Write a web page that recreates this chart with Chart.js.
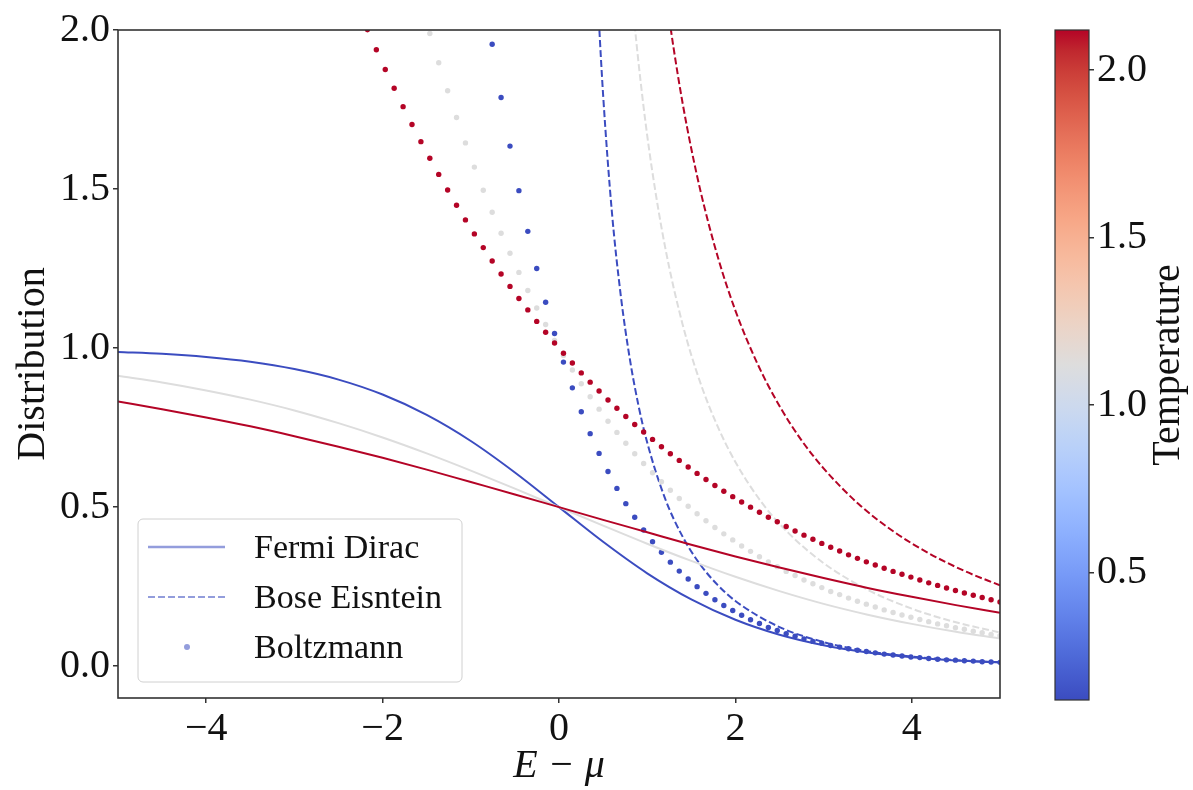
<!DOCTYPE html>
<html>
<head>
<meta charset="utf-8">
<script src="https://cdn.jsdelivr.net/npm/chart.js@4.4.1/dist/chart.umd.min.js"></script>
<style>
html,body{margin:0;padding:0;background:#fff;overflow:hidden;}
#wrap{position:relative;width:1193px;height:790px;}
#wrap canvas{position:absolute;left:0;top:0;}
</style>
</head>
<body>
<div id="wrap">
<canvas id="main" width="1193" height="790"></canvas>
<canvas id="cbar" width="1193" height="790"></canvas>
</div>
<script>
// ---------------- DATA ----------------
// Energy grid (E - mu) used by the Boltzmann markers
const energy = [
 -5.0000,-4.8990,-4.7980,-4.6970,-4.5960,-4.4949,-4.3939,-4.2929,-4.1919,-4.0909,
 -3.9899,-3.8889,-3.7879,-3.6869,-3.5859,-3.4848,-3.3838,-3.2828,-3.1818,-3.0808,
 -2.9798,-2.8788,-2.7778,-2.6768,-2.5758,-2.4747,-2.3737,-2.2727,-2.1717,-2.0707,
 -1.9697,-1.8687,-1.7677,-1.6667,-1.5657,-1.4646,-1.3636,-1.2626,-1.1616,-1.0606,
 -0.9596,-0.8586,-0.7576,-0.6566,-0.5556,-0.4545,-0.3535,-0.2525,-0.1515,-0.0505,
 0.0505,0.1515,0.2525,0.3535,0.4545,0.5556,0.6566,0.7576,0.8586,0.9596,
 1.0606,1.1616,1.2626,1.3636,1.4646,1.5657,1.6667,1.7677,1.8687,1.9697,
 2.0707,2.1717,2.2727,2.3737,2.4747,2.5758,2.6768,2.7778,2.8788,2.9798,
 3.0808,3.1818,3.2828,3.3838,3.4848,3.5859,3.6869,3.7879,3.8889,3.9899,
 4.0909,4.1919,4.2929,4.3939,4.4949,4.5960,4.6970,4.7980,4.8990,5.0000
];

// Boltzmann (markers), aligned with `energy`; null = above the plotted range
const boltzmannLow = [
 null,null,null,null,null,null,null,null,null,null,
 null,null,null,null,null,null,null,null,null,null,
 null,null,null,null,null,null,null,null,null,null,
 null,null,null,null,null,null,null,null,null,null,
 null,null,1.955,1.788,1.635,1.495,1.367,1.250,1.144,1.046,
 0.956,0.875,0.800,0.731,0.669,0.612,0.559,0.511,0.468,0.428,
 0.391,0.358,0.327,0.299,0.274,0.250,0.229,0.209,0.191,0.175,
 0.160,0.146,0.134,0.122,0.112,0.102,0.094,0.086,0.078,0.072,
 0.065,0.060,0.055,0.050,0.046,0.042,0.038,0.035,0.032,0.029,
 0.027,0.024,0.022,0.020,0.019,0.017,0.016,0.014,0.013,0.012
];
const boltzmannMid = [
 null,null,null,null,null,null,null,null,null,null,
 null,null,null,null,null,null,null,null,null,null,
 null,null,null,null,null,null,null,null,null,null,
 null,null,null,null,null,1.989,1.897,1.809,1.725,1.645,
 1.569,1.496,1.427,1.361,1.298,1.238,1.181,1.126,1.074,1.024,
 0.977,0.931,0.888,0.847,0.808,0.770,0.735,0.701,0.668,0.637,
 0.608,0.580,0.553,0.527,0.503,0.479,0.457,0.436,0.416,0.397,
 0.378,0.361,0.344,0.328,0.313,0.298,0.285,0.271,0.259,0.247,
 0.235,0.225,0.214,0.204,0.195,0.186,0.177,0.169,0.161,0.154,
 0.147,0.140,0.133,0.127,0.121,0.116,0.110,0.105,0.100,0.096
];
const boltzmannHigh = [
 null,null,null,null,null,null,null,null,null,null,
 null,null,null,null,null,null,null,null,null,null,
 null,null,null,null,null,null,null,null,2.001,1.938,
 1.876,1.817,1.759,1.703,1.649,1.597,1.546,1.497,1.449,1.403,
 1.359,1.316,1.274,1.233,1.194,1.156,1.120,1.084,1.050,1.016,
 0.984,0.953,0.922,0.893,0.865,0.837,0.811,0.785,0.760,0.736,
 0.713,0.690,0.668,0.647,0.626,0.606,0.587,0.568,0.550,0.533,
 0.516,0.500,0.484,0.468,0.454,0.439,0.425,0.412,0.399,0.386,
 0.374,0.362,0.350,0.339,0.328,0.318,0.308,0.298,0.289,0.280,
 0.271,0.262,0.254,0.246,0.238,0.230,0.223,0.216,0.209,0.202
];

// Fermi-Dirac (solid lines)
const fdEnergy = [-5,-4.5,-4,-3.5,-3,-2.5,-2,-1.5,-1,-0.5,0,0.5,1,1.5,2,2.5,3,3.5,4,4.5,5];
const fermiLow  = [0.988,0.982,0.972,0.957,0.934,0.901,0.854,0.790,0.708,0.609,0.5,0.391,0.292,0.210,0.146,0.099,0.066,0.043,0.028,0.018,0.012];
const fermiMid  = [0.913,0.892,0.867,0.838,0.804,0.764,0.719,0.669,0.615,0.558,0.5,0.442,0.385,0.331,0.281,0.236,0.196,0.162,0.133,0.108,0.087];
const fermiHigh = [0.832,0.808,0.782,0.754,0.723,0.690,0.655,0.618,0.579,0.540,0.5,0.460,0.421,0.382,0.345,0.310,0.277,0.246,0.218,0.192,0.168];

// Bose-Einstein (dashed lines)
const beEnergyLow  = [0.35,0.40,0.45,0.50,0.60,0.70,0.80,0.90,1.0,1.2,1.4,1.6,1.8,2.0,2.5,3.0,3.5,4.0,4.5,5.0];
const boseLow      = [2.754,2.354,2.044,1.797,1.427,1.166,0.971,0.821,0.703,0.529,0.408,0.320,0.255,0.205,0.123,0.076,0.047,0.030,0.019,0.012];
const beEnergyMid  = [0.65,0.75,0.85,0.95,1.05,1.2,1.4,1.6,1.8,2.0,2.3,2.6,3.0,3.5,4.0,4.5,5.0];
const boseMid      = [2.802,2.369,2.039,1.779,1.570,1.322,1.076,0.893,0.753,0.642,0.514,0.419,0.324,0.240,0.181,0.138,0.106];
const beEnergyHigh = [0.95,1.05,1.15,1.25,1.35,1.45,1.6,1.8,2.0,2.25,2.5,2.75,3.0,3.4,3.8,4.2,4.6,5.0];
const boseHigh     = [2.820,2.509,2.252,2.037,1.854,1.697,1.499,1.287,1.118,0.951,0.818,0.710,0.622,0.509,0.422,0.354,0.299,0.254];

// Axes / colorbar ticks
const xTickValues = [-4,-2,0,2,4];
const yTickValues = [0,0.5,1,1.5,2];
const colorbarRange = [0.12, 2.12];
const colorbarTicks = [0.5,1.0,1.5,2.0];
const legendLabels = ['Fermi Dirac','Bose Eisntein','Boltzmann'];

// ---------------- STYLE ----------------
const FONT = "'Liberation Serif','Times New Roman',serif";
const TXT = '#111111';
const AX = '#333333';
const C = { low:'#3b4cc0', mid:'#dddddd', high:'#b40426' };
const coolwarm = [
 [59,76,192],[68,90,204],[77,104,215],[87,117,225],[98,130,234],[108,142,241],[119,154,247],[130,165,251],
 [141,176,254],[152,185,255],[163,194,255],[174,201,253],[184,208,249],[194,213,244],[204,217,238],[213,219,230],
 [221,221,221],[229,216,209],[236,211,197],[241,204,184],[245,196,172],[247,187,159],[247,177,147],[247,166,134],
 [244,154,123],[241,141,111],[236,127,99],[229,112,89],[222,96,77],[213,80,66],[203,62,56],[192,40,47],[180,4,38]
];

function pts(xs, ys){
  const out = [];
  for (let i = 0; i < xs.length; i++) if (ys[i] !== null) out.push({x: xs[i], y: ys[i]});
  return out;
}
function lineDs(label, xs, ys, color, dash){
  return {label, data: pts(xs, ys), showLine: true, borderColor: color, backgroundColor: color,
    borderWidth: 2, borderDash: dash || [], pointRadius: 0, pointHoverRadius: 0,
    cubicInterpolationMode: 'monotone', clip: 0};
}
function dotDs(label, xs, ys, color){
  return {label, data: pts(xs, ys), showLine: false, pointRadius: 2.7, pointHoverRadius: 2.7,
    pointBackgroundColor: color, pointBorderWidth: 0, borderColor: color, backgroundColor: color, clip: 0};
}

const datasets = [
  dotDs(legendLabels[2], energy, boltzmannHigh, C.high),
  lineDs(legendLabels[1], beEnergyHigh, boseHigh, C.high, [7,3]),
  lineDs(legendLabels[0], fdEnergy, fermiHigh, C.high),
  dotDs(legendLabels[2], energy, boltzmannMid, C.mid),
  lineDs(legendLabels[1], beEnergyMid, boseMid, C.mid, [7,3]),
  lineDs(legendLabels[0], fdEnergy, fermiMid, C.mid),
  dotDs(legendLabels[2], energy, boltzmannLow, C.low),
  lineDs(legendLabels[1], beEnergyLow, boseLow, C.low, [7,3]),
  lineDs(legendLabels[0], fdEnergy, fermiLow, C.low)
];

function roundRectPath(ctx, x, y, w, h, r){
  ctx.beginPath();
  ctx.moveTo(x + r, y);
  ctx.lineTo(x + w - r, y); ctx.arcTo(x + w, y, x + w, y + r, r);
  ctx.lineTo(x + w, y + h - r); ctx.arcTo(x + w, y + h, x + w - r, y + h, r);
  ctx.lineTo(x + r, y + h); ctx.arcTo(x, y + h, x, y + h - r, r);
  ctx.lineTo(x, y + r); ctx.arcTo(x, y, x + r, y, r);
  ctx.closePath();
}

const framePlugin = {
  id: 'frameAndLegend',
  afterDatasetsDraw(chart){
    const ctx = chart.ctx, a = chart.chartArea;
    ctx.save();
    ctx.strokeStyle = AX; ctx.lineWidth = 1.6;
    ctx.strokeRect(a.left, a.top, a.right - a.left, a.bottom - a.top);
    // legend box
    const bx = a.left + 20, by = a.bottom - 179, bw = 324, bh = 163;
    roundRectPath(ctx, bx, by, bw, bh, 5);
    ctx.fillStyle = 'rgba(255,255,255,0.8)'; ctx.fill();
    ctx.strokeStyle = '#d0d0d0'; ctx.lineWidth = 1; ctx.stroke();
    const handle = 'rgba(59,76,192,0.55)';
    const rows = [by + 28, by + 78, by + 128];
    // FD handle
    ctx.strokeStyle = handle; ctx.lineWidth = 2.4; ctx.setLineDash([]);
    ctx.beginPath(); ctx.moveTo(bx + 10, rows[0]); ctx.lineTo(bx + 87, rows[0]); ctx.stroke();
    // BE handle
    ctx.lineWidth = 2; ctx.setLineDash([7,3]);
    ctx.beginPath(); ctx.moveTo(bx + 10, rows[1]); ctx.lineTo(bx + 87, rows[1]); ctx.stroke();
    ctx.setLineDash([]);
    // Boltzmann handle
    ctx.fillStyle = handle;
    ctx.beginPath(); ctx.arc(bx + 49, rows[2], 3, 0, Math.PI * 2); ctx.fill();
    // text
    ctx.fillStyle = TXT; ctx.font = '34px ' + FONT;
    ctx.textAlign = 'left'; ctx.textBaseline = 'middle';
    legendLabels.forEach((t, k) => ctx.fillText(t, bx + 116, rows[k] + 2));
    ctx.restore();
  }
};

Chart.defaults.font.family = FONT;
Chart.defaults.color = TXT;

new Chart(document.getElementById('main'), {
  type: 'scatter',
  data: { datasets },
  options: {
    responsive: false, devicePixelRatio: 1, animation: false,
    layout: { padding: { top: 30, right: 193, left: 0, bottom: 0 } },
    plugins: { legend: { display: false }, tooltip: { enabled: false } },
    events: [],
    scales: {
      x: {
        type: 'linear', min: -5, max: 5,
        afterBuildTicks: s => { s.ticks = xTickValues.map(v => ({value: v})); },
        afterFit: s => { s.height = 92; },
        ticks: { font: { size: 40 }, color: TXT, padding: 2, maxRotation: 0, autoSkip: false,
          callback: v => (v < 0 ? '\u2212' + Math.abs(v) : String(v)) },
        grid: { drawOnChartArea: false, drawTicks: true, tickLength: 5, color: AX, lineWidth: 1.5 },
        border: { display: false },
        title: { display: true, text: 'E \u2212 \u03bc', font: { size: 40, style: 'italic' }, color: TXT,
          padding: { top: 0, bottom: 0 } }
      },
      y: {
        type: 'linear', min: -0.1, max: 2.0,
        afterBuildTicks: s => { s.ticks = yTickValues.map(v => ({value: v})); },
        afterFit: s => { s.width = 118; },
        ticks: { font: { size: 40 }, color: TXT, padding: 3, autoSkip: false,
          callback: v => Number(v).toFixed(1) },
        grid: { drawOnChartArea: false, drawTicks: true, tickLength: 5, color: AX, lineWidth: 1.5 },
        border: { display: false },
        title: { display: true, text: 'Distribution', font: { size: 40 }, color: TXT,
          padding: { top: 9, bottom: 0 } }
      }
    }
  },
  plugins: [framePlugin]
});

// ---------------- COLORBAR ----------------
const cbarTitlePlugin = {
  id: 'cbarTitle',
  afterDraw(chart){
    const ctx = chart.ctx, a = chart.chartArea;
    ctx.save();
    ctx.strokeStyle = AX; ctx.lineWidth = 1.2;
    ctx.strokeRect(a.left, a.top, a.right - a.left, a.bottom - a.top);
    ctx.translate(1168, (a.top + a.bottom) / 2);
    ctx.rotate(-Math.PI / 2);
    ctx.fillStyle = TXT; ctx.font = '40px ' + FONT;
    ctx.textAlign = 'center'; ctx.textBaseline = 'middle';
    ctx.fillText('Temperature', 0, 0);
    ctx.restore();
  }
};

new Chart(document.getElementById('cbar'), {
  type: 'bar',
  data: {
    labels: ['Temperature'],
    datasets: [{
      data: [colorbarRange],
      barPercentage: 1, categoryPercentage: 1, borderWidth: 0,
      backgroundColor: c => {
        const ch = c.chart, ca = ch.chartArea;
        if (!ca) return '#ddd';
        const g = ch.ctx.createLinearGradient(0, ca.bottom, 0, ca.top);
        coolwarm.forEach((rgb, k) => g.addColorStop(k / (coolwarm.length - 1), 'rgb(' + rgb.join(',') + ')'));
        return g;
      }
    }]
  },
  options: {
    responsive: false, devicePixelRatio: 1, animation: false, events: [],
    layout: { padding: { top: 30, left: 1055, right: 0, bottom: 90 } },
    plugins: { legend: { display: false }, tooltip: { enabled: false } },
    scales: {
      x: { display: false },
      y: {
        position: 'right', min: colorbarRange[0], max: colorbarRange[1],
        afterBuildTicks: s => { s.ticks = colorbarTicks.map(v => ({value: v})); },
        afterFit: s => { s.width = 104; },
        ticks: { font: { size: 40 }, color: TXT, padding: 3, autoSkip: false,
          callback: v => Number(v).toFixed(1) },
        grid: { drawOnChartArea: false, drawTicks: true, tickLength: 5, color: AX, lineWidth: 1.5 },
        border: { display: false }
      }
    }
  },
  plugins: [cbarTitlePlugin]
});
</script>
</body>
</html>
